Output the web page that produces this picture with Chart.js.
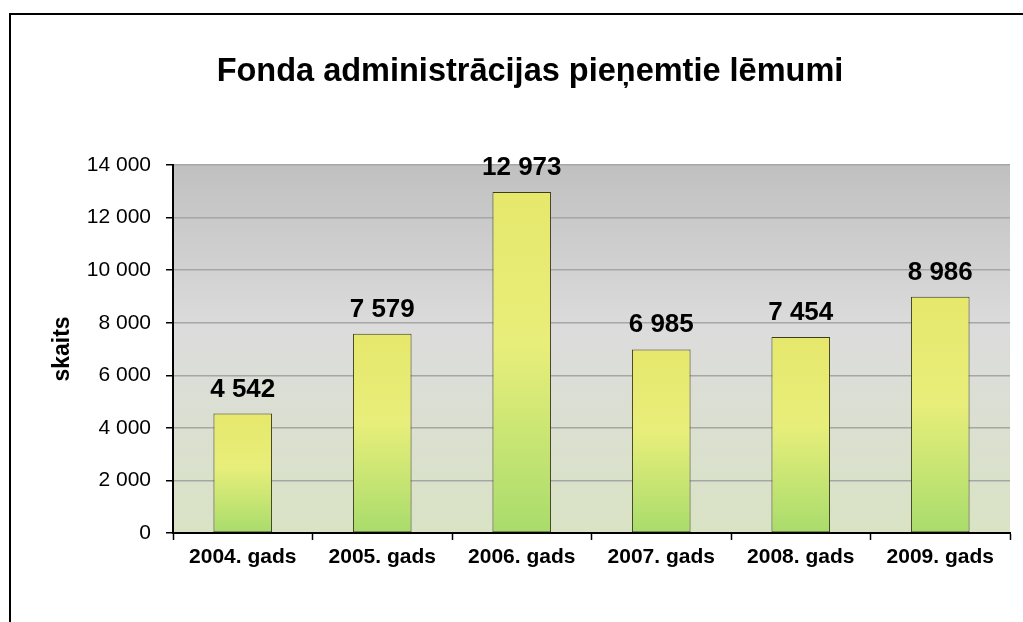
<!DOCTYPE html>
<html>
<head>
<meta charset="utf-8">
<script src="https://cdn.jsdelivr.net/npm/chart.js@4"></script>
<style>
  body { margin: 0; background: #fff; }
  .frame { position: absolute; left: 9px; top: 13px; width: 1100px; height: 700px;
           border-left: 2px solid #000; border-top: 2px solid #000; }
  #wrap { position: absolute; left: 0; top: 0; width: 1023px; height: 622px; }
</style>
</head>
<body>
<div class="frame"></div>
<div id="wrap"><canvas id="lemumiChart" width="1023" height="622"></canvas></div>
<script>
  // dati
  const gadi = ['2004. gads', '2005. gads', '2006. gads', '2007. gads', '2008. gads', '2009. gads'];
  const skaits = [4542, 7579, 12973, 6985, 7454, 8986];
  const yMax = 14000;
  const ySolis = 2000;

  const FONT = "'Liberation Sans', Arial, sans-serif";

  function formatSkaits(v) {
    return String(v).replace(/\B(?=(\d{3})+(?!\d))/g, ' ');
  }

  // fona gradients zimejuma laukumam
  const fonsPlugin = {
    id: 'fons',
    beforeDraw(chart) {
      const a = chart.chartArea;
      if (!a) return;
      const ctx = chart.ctx;
      const g = ctx.createLinearGradient(0, a.top, 0, a.bottom);
      g.addColorStop(0, '#c0c0c0');
      g.addColorStop(0.45, '#dcdcdc');
      g.addColorStop(1, '#d9e3c4');
      ctx.save();
      ctx.fillStyle = g;
      ctx.fillRect(a.left, a.top, a.right - a.left, a.bottom - a.top);
      ctx.restore();
    }
  };

  // vertibas virs stabiem
  const vertibasPlugin = {
    id: 'vertibas',
    afterDatasetsDraw(chart) {
      const ctx = chart.ctx;
      const meta = chart.getDatasetMeta(0);
      ctx.save();
      ctx.font = 'bold 26px ' + FONT;
      ctx.fillStyle = '#000';
      ctx.textAlign = 'center';
      ctx.textBaseline = 'alphabetic';
      meta.data.forEach((bar, i) => {
        ctx.fillText(formatSkaits(skaits[i]), bar.x, bar.y - 17);
      });
      ctx.restore();
    }
  };

  function stabaKrasa(context) {
    const chart = context.chart;
    const a = chart.chartArea;
    if (!a || context.parsed == null) return '#d8ea72';
    const y = chart.scales.y;
    const top = y.getPixelForValue(context.parsed.y);
    const base = y.getPixelForValue(0);
    const g = chart.ctx.createLinearGradient(0, top, 0, base);
    g.addColorStop(0, '#e6e86c');
    g.addColorStop(0.45, '#e8ee7a');
    g.addColorStop(1, '#a8dc6c');
    return g;
  }

  new Chart(document.getElementById('lemumiChart'), {
    type: 'bar',
    data: {
      labels: gadi,
      datasets: [{
        data: skaits,
        backgroundColor: stabaKrasa,
        borderColor: '#3c3c1e',
        borderWidth: 1,
        borderSkipped: false,
        barPercentage: 0.42,
        categoryPercentage: 1
      }]
    },
    options: {
      responsive: false,
      maintainAspectRatio: false,
      animation: false,
      layout: { padding: { left: 50, right: 13, top: 0, bottom: 49 } },
      scales: {
        x: {
          grid: { display: true, drawOnChartArea: false, tickLength: 7, tickColor: '#000', tickWidth: 1.5 },
          border: { color: '#000', width: 2 },
          ticks: { color: '#000', font: { family: FONT, size: 21, weight: 'bold' }, padding: 5, maxRotation: 0 },
          afterFit(scale) { scale.height = 40; }
        },
        y: {
          min: 0,
          max: yMax,
          ticks: {
            stepSize: ySolis,
            color: '#000',
            font: { family: FONT, size: 21 },
            padding: 15,
            callback: (v) => formatSkaits(v)
          },
          grid: { color: '#a6a6a6', lineWidth: 1.5, tickLength: 7, tickColor: '#000', tickWidth: 1.5 },
          border: { color: '#000', width: 2 },
          title: {
            display: true,
            text: 'skaits',
            color: '#000',
            font: { family: FONT, size: 23, weight: 'bold', lineHeight: 1 },
            padding: { top: 1.5, bottom: 0 }
          },
          afterFit(scale) { scale.width = 123; }
        }
      },
      plugins: {
        legend: { display: false },
        tooltip: { enabled: false },
        title: {
          display: true,
          text: 'Fonda administrācijas pieņemtie lēmumi',
          color: '#000',
          font: { family: FONT, size: 32.5, weight: 'bold' },
          padding: { top: 52.5, bottom: 73.5 }
        }
      }
    },
    plugins: [fonsPlugin, vertibasPlugin]
  });
</script>
</body>
</html>
